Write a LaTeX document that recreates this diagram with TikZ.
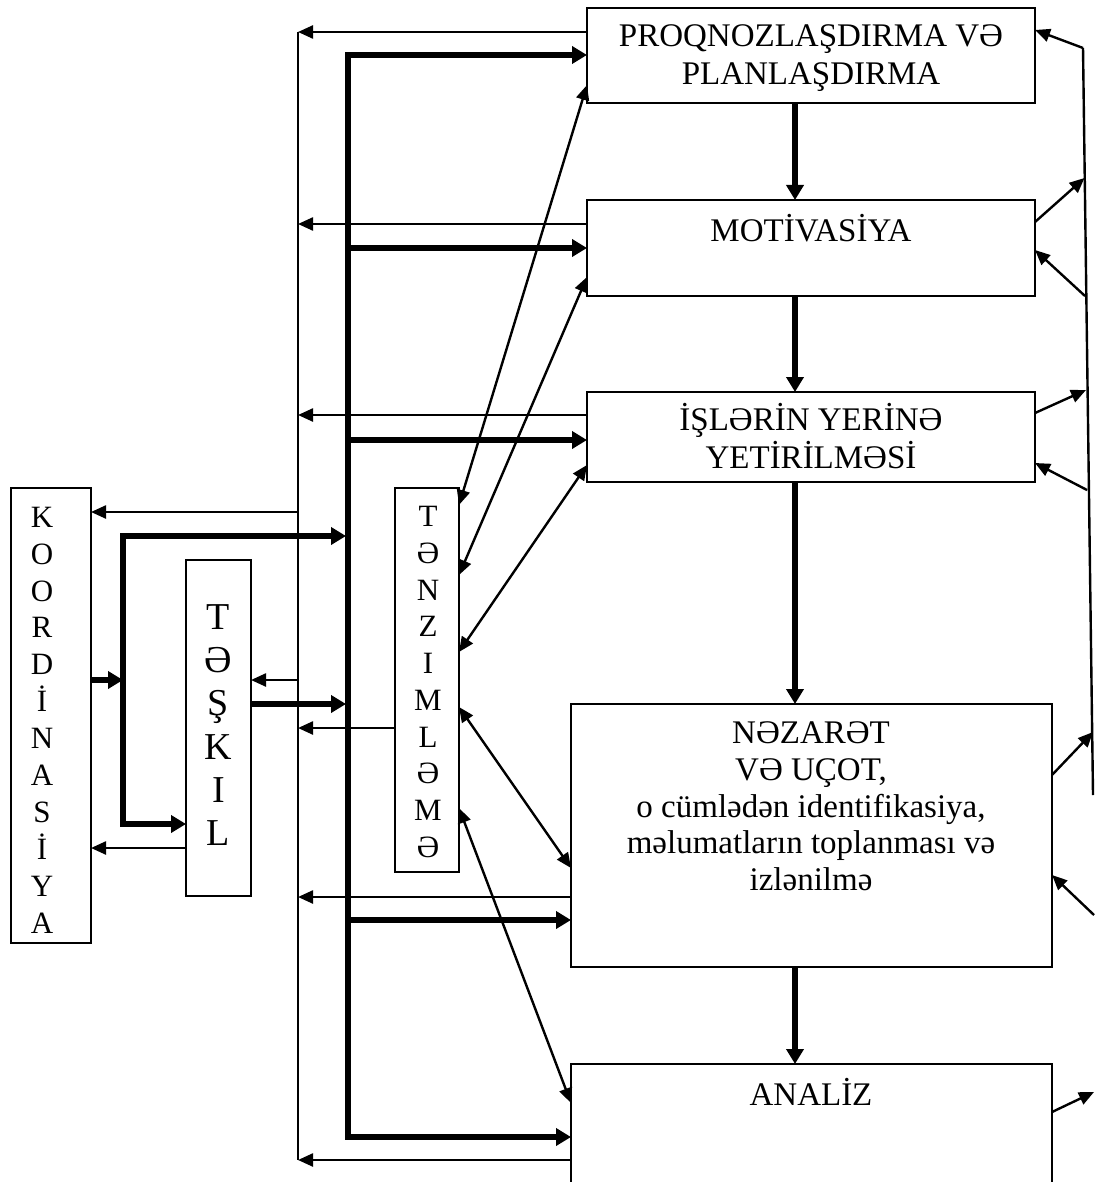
\documentclass[tikz,border=0pt]{standalone}
\usepackage{fontspec}
\setmainfont{Liberation Serif}
\usetikzlibrary{arrows.meta}
\begin{document}
\begin{tikzpicture}[x=1pt,y=-1pt,
  box/.style={draw, line width=2pt, inner sep=0pt, outer sep=0pt},
  txt/.style={inner sep=0pt, font=\fontsize{33}{37}\selectfont, anchor=base},
  tarr/.style={line width=2.4pt, -{Triangle[length=15pt,width=13pt]}},
  dbl/.style={line width=2.4pt, {Triangle[length=15pt,width=13pt]}-{Triangle[length=15pt,width=13pt]}},
  karr/.style={line width=5.5pt, -{Triangle[length=15pt,width=17pt]}},
  kdbl/.style={line width=5.5pt, {Triangle[length=15pt,width=17pt]}-{Triangle[length=15pt,width=17pt]}},
  tline/.style={line width=2.4pt}]
\useasboundingbox[fill=white] (0,0) rectangle (1094,1182);

% boxes
\node[box, minimum width=448pt, minimum height=95pt] (proq) at (811,55.5) {};
\node[box, minimum width=448pt, minimum height=96pt] (mot) at (811,248) {};
\node[box, minimum width=448pt, minimum height=90pt] (isl) at (811,437) {};
\node[box, minimum width=481pt, minimum height=263pt] (nez) at (811.5,835.5) {};
\node[box, minimum width=481pt, minimum height=186pt] (anal) at (811.5,1157) {};
\node[box, minimum width=80pt, minimum height=455pt] (koord) at (51,715.5) {};
\node[box, minimum width=65pt, minimum height=336pt] (task) at (218.5,728) {};
\node[box, minimum width=64pt, minimum height=384pt] (tenz) at (427,680) {};

% texts
\node[txt] (t1a) at (811,47) {PROQNOZLAŞDIRMA VƏ};
\node[txt] (t1b) at (811,85) {PLANLAŞDIRMA};
\node[txt] (t2) at (811,241) {MOTİVASİYA};
\node[txt] (t3a) at (811,430) {İŞLƏRİN YERİNƏ};
\node[txt] (t3b) at (811,468) {YETİRİLMƏSİ};
\node[txt] (t4a) at (811,743) {NƏZARƏT};
\node[txt] (t4b) at (811,780) {VƏ UÇOT,};
\node[txt] (t4c) at (811,817) {o cümlədən identifikasiya,};
\node[txt] (t4d) at (811,853) {məlumatların toplanması və};
\node[txt] (t4e) at (811,890) {izlənilmə};
\node[txt] (t5) at (811,1105) {ANALİZ};

\node[inner sep=0pt, align=center, font=\fontsize{31}{36.9}\selectfont] (kt) at (42,720)
  {K\\O\\O\\R\\D\\İ\\N\\A\\S\\İ\\Y\\A};
\node[inner sep=0pt, align=center, font=\fontsize{38}{43.2}\selectfont] (tt) at (218.5,725)
  {T\\Ə\\Ş\\K\\I\\L};
\node[inner sep=0pt, align=center, font=\fontsize{31}{36.7}\selectfont] (nt) at (428,682)
  {T\\Ə\\N\\Z\\I\\M\\L\\Ə\\M\\Ə};

% bus coordinates
\coordinate (bt) at (298,32);
\coordinate (bb) at (298,1160);
\coordinate (kt1) at (348,55);
\coordinate (kb1) at (348,1137);
\coordinate (dx) at (795,0);

% thin bus
\draw[tline] (bt) -- (bb);
\draw[tarr] (proq.west |- 0,32) -- (bt);
\draw[tarr] (mot.west |- 0,224) -- (298,224);
\draw[tarr] (isl.west |- 0,415) -- (298,415);
\draw[tarr] (nez.west |- 0,897) -- (298,897);
\draw[tarr] (anal.west |- 0,1160) -- (bb);
\draw[tarr] (298,512) -- (koord.east |- 0,512);
\draw[tarr] (298,680) -- (task.east |- 0,680);
\draw[tarr] (tenz.west |- 0,728) -- (298,728);
\draw[tarr] (task.west |- 0,848) -- (koord.east |- 0,848);

% thick bus
\draw[kdbl] (anal.west |- kb1) -- (kb1) -- (kt1) -- (proq.west |- kt1);
\draw[karr] (348,248) -- (mot.west |- 0,248);
\draw[karr] (348,440) -- (isl.west |- 0,440);
\draw[karr] (348,920) -- (nez.west |- 0,920);
\draw[karr] (koord.east |- 0,680) -- (123,680);
\draw[kdbl] (346,536) -- (123,536) -- (123,824) -- (task.west |- 0,824);
\draw[karr] (task.east |- 0,704) -- (346,704);

% vertical flow
\draw[karr] (proq.south -| dx) -- (mot.north -| dx);
\draw[karr] (mot.south -| dx) -- (isl.north -| dx);
\draw[karr] (isl.south -| dx) -- (nez.north -| dx);
\draw[karr] (nez.south -| dx) -- (anal.north -| dx);

% diagonals
\draw[dbl] (tenz.east |- 0,505) -- (proq.west |- 0,85);
\draw[dbl] (tenz.east |- 0,575) -- (mot.west |- 0,277);
\draw[dbl] (tenz.east |- 0,652) -- (isl.west |- 0,465);
\draw[dbl] (tenz.east |- 0,707) -- (nez.west |- 0,868);
\draw[dbl] (tenz.east |- 0,808) -- (anal.west |- 0,1103);

% right side
\coordinate (rt) at (1083,48);
\coordinate (rb) at (1093,795);
\draw[tline] (rt) -- (rb);
\draw[tarr] (rt) -- (proq.east |- 0,30);
\draw[tarr] (mot.east |- 0,222) -- (1084.5,178);
\draw[tarr] (1085,296) -- (mot.east |- 0,250);
\draw[tarr] (isl.east |- 0,413) -- (1086,390);
\draw[tarr] (1087,490) -- (isl.east |- 0,463);
\draw[tarr] (nez.east |- 0,775) -- (1093,732);
\draw[tarr] (1094,915) -- (nez.east |- 0,875);
\draw[tarr] (anal.east |- 0,1112) -- (1094,1092);
\end{tikzpicture}
\end{document}
